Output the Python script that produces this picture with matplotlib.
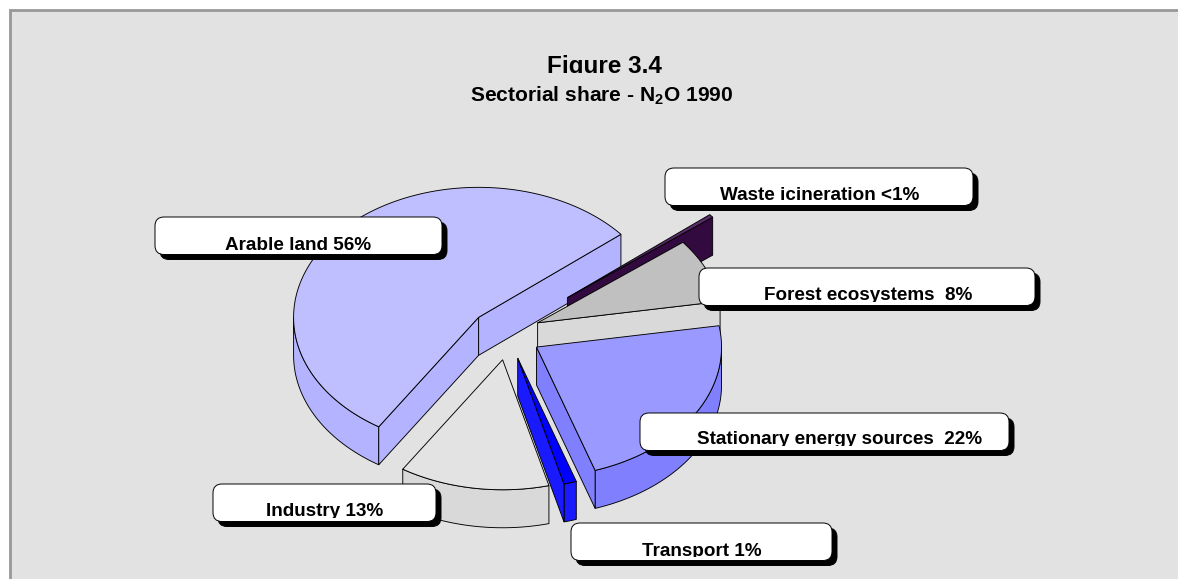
import numpy as np
import matplotlib
matplotlib.use("Agg")
import matplotlib.pyplot as plt
from matplotlib.patches import Polygon, FancyBboxPatch, Rectangle

plt.rcParams['font.family'] = ['Liberation Sans', 'DejaVu Sans']
plt.rcParams['mathtext.fontset'] = 'custom'
plt.rcParams['mathtext.bf'] = 'Liberation Sans:bold'
plt.rcParams['mathtext.rm'] = 'Liberation Sans:bold'

# ---- data (clockwise order) ----
sectors = ["Arable land", "Waste icineration", "Forest ecosystems",
           "Stationary energy sources", "Transport", "Industry"]
shares = [54.9, 0.4, 8.0, 22.5, 1.1, 13.1]
labels = ["Arable land 56%", "Waste icineration <1%", "Forest ecosystems  8%",
          "Stationary energy sources  22%", "Transport 1%", "Industry 13%"]
explode = [0.205, 0.42, 0.175, 0.18, 0.185, 0.185]

# ---- styles ----
top_colors = ["#BFBFFF", "#5A2A6A", "#C0C0C0", "#9999FF", "#0000FF", "#E3E3E3"]
side_colors = ["#B3B3FF", "#330A40", "#D9D9D9", "#8080FF", "#1A1AFF", "#D9D9D9"]
draw_order = [0, 1, 2, 3, 5, 4]

# ---- layout, in pixels ----
W, H = 1178, 579
CX, CY, RX, RY, DEPTH = 508, 335, 185, 130, 38
START = 39.7
nudge_x = [-1, -1, 0, 0, 0, 0]
nudge_y = [0, -3, -3, 0, 0, 1]
box_x0 = [155, 665, 699, 640, 571, 213]
box_x1 = [442, 973, 1035, 1009, 832, 436]
box_y0 = [217, 168, 268, 413, 523, 484]
text_dx = [0, 1, 1, 15.5, 0, 0]
text_dy = [0, 0, 0, -1, 0, 0]
BOX_H = 37.5
SHADOW = 5
ROUND = 9

fig = plt.figure(figsize=(W / 100, H / 100), dpi=100, facecolor="white")
ax = fig.add_axes([0, 0, 1, 1])
ax.set_xlim(0, W)
ax.set_ylim(H, 0)
ax.axis("off")

ax.add_patch(Rectangle((9.5, 9.5), 1300, 700, fc="#E2E2E2", ec="#989898", lw=2, zorder=0))

total = sum(shares)
angles = [s / total * 360 for s in shares]
LW = 0.65
z = 2


def pt(a, ox, oy):
    r = np.radians(a)
    return np.column_stack([ox + RX * np.cos(r), oy - RY * np.sin(r)])


ends = []
cur = START
for i, a in enumerate(angles):
    if i == 0:
        ends.append((START, START + a))  # counter-clockwise from START
    else:
        ends.append((cur - a, cur))
        cur -= a

for i in draw_order:
    lo, hi = ends[i]
    mid = np.radians((lo + hi) / 2)
    ox = CX + explode[i] * RX * np.cos(mid) + nudge_x[i]
    oy = CY - explode[i] * RY * np.sin(mid) + nudge_y[i]
    arc = np.linspace(lo, hi, 240)
    top = pt(arc, ox, oy)
    apex = np.array([[ox, oy]])
    # outer wall: the part of the rim that faces the viewer
    norm = (arc + 360) % 360
    vis = (norm >= 180) & (norm <= 360)
    if vis.any():
        t = top[vis]
        wall = np.vstack([t, (t + [0, DEPTH])[::-1]])
        ax.add_patch(Polygon(wall, fc=side_colors[i], ec="black", lw=LW, zorder=z, joinstyle="round"))
        z += 1
    # cut faces
    for edge in (lo, hi):
        p = pt(np.array([edge]), ox, oy)
        face = np.vstack([apex, p, p + [0, DEPTH], apex + [0, DEPTH]])
        # a face is drawn when its outward normal looks toward the viewer
        normal_deg = edge - 90 if edge == lo else edge + 90
        if np.sin(np.radians(normal_deg)) < 0:
            ax.add_patch(Polygon(face, fc=side_colors[i], ec="black", lw=LW, zorder=z))
            z += 1
    ax.add_patch(Polygon(np.vstack([apex, top]), fc=top_colors[i], ec="black", lw=LW, zorder=z))
    z += 1

# label boxes
for i in range(len(labels)):
    x0, x1, y0 = box_x0[i], box_x1[i], box_y0[i]
    for off, fc in ((SHADOW, "black"), (0, "white")):
        ax.add_patch(FancyBboxPatch((x0 + off + ROUND, y0 + off + ROUND), x1 - x0 - 2 * ROUND, BOX_H - 2 * ROUND,
                                    boxstyle=f"round,pad={ROUND},rounding_size={ROUND}", fc=fc,
                                    ec="black", lw=0.7, zorder=50 + (off == 0)))
    txt = ax.text((x0 + x1) / 2 + text_dx[i], y0 + 32.5 + text_dy[i], labels[i], ha="center", va="baseline",
                  fontsize=13.6, fontweight="bold", color="black", zorder=60)
    txt.set_clip_path(Rectangle((x0, y0), x1 - x0, 33.5 + text_dy[i], transform=ax.transData))
    txt.set_clip_on(True)

t = ax.text(604.5, 72.5, "Figure 3.4", ha="center", va="baseline", fontsize=17.5,
            fontweight="bold", zorder=60)
t.set_clip_path(Rectangle((400, 40), 400, 33, transform=ax.transData))
t.set_clip_on(True)
ax.text(601.5, 101, r"Sectorial share - N$_{\mathbf{2}}$O 1990", ha="center", va="baseline",
        fontsize=15.1, fontweight="bold", zorder=60)

fig.savefig("out.png", dpi=100, facecolor="white")
